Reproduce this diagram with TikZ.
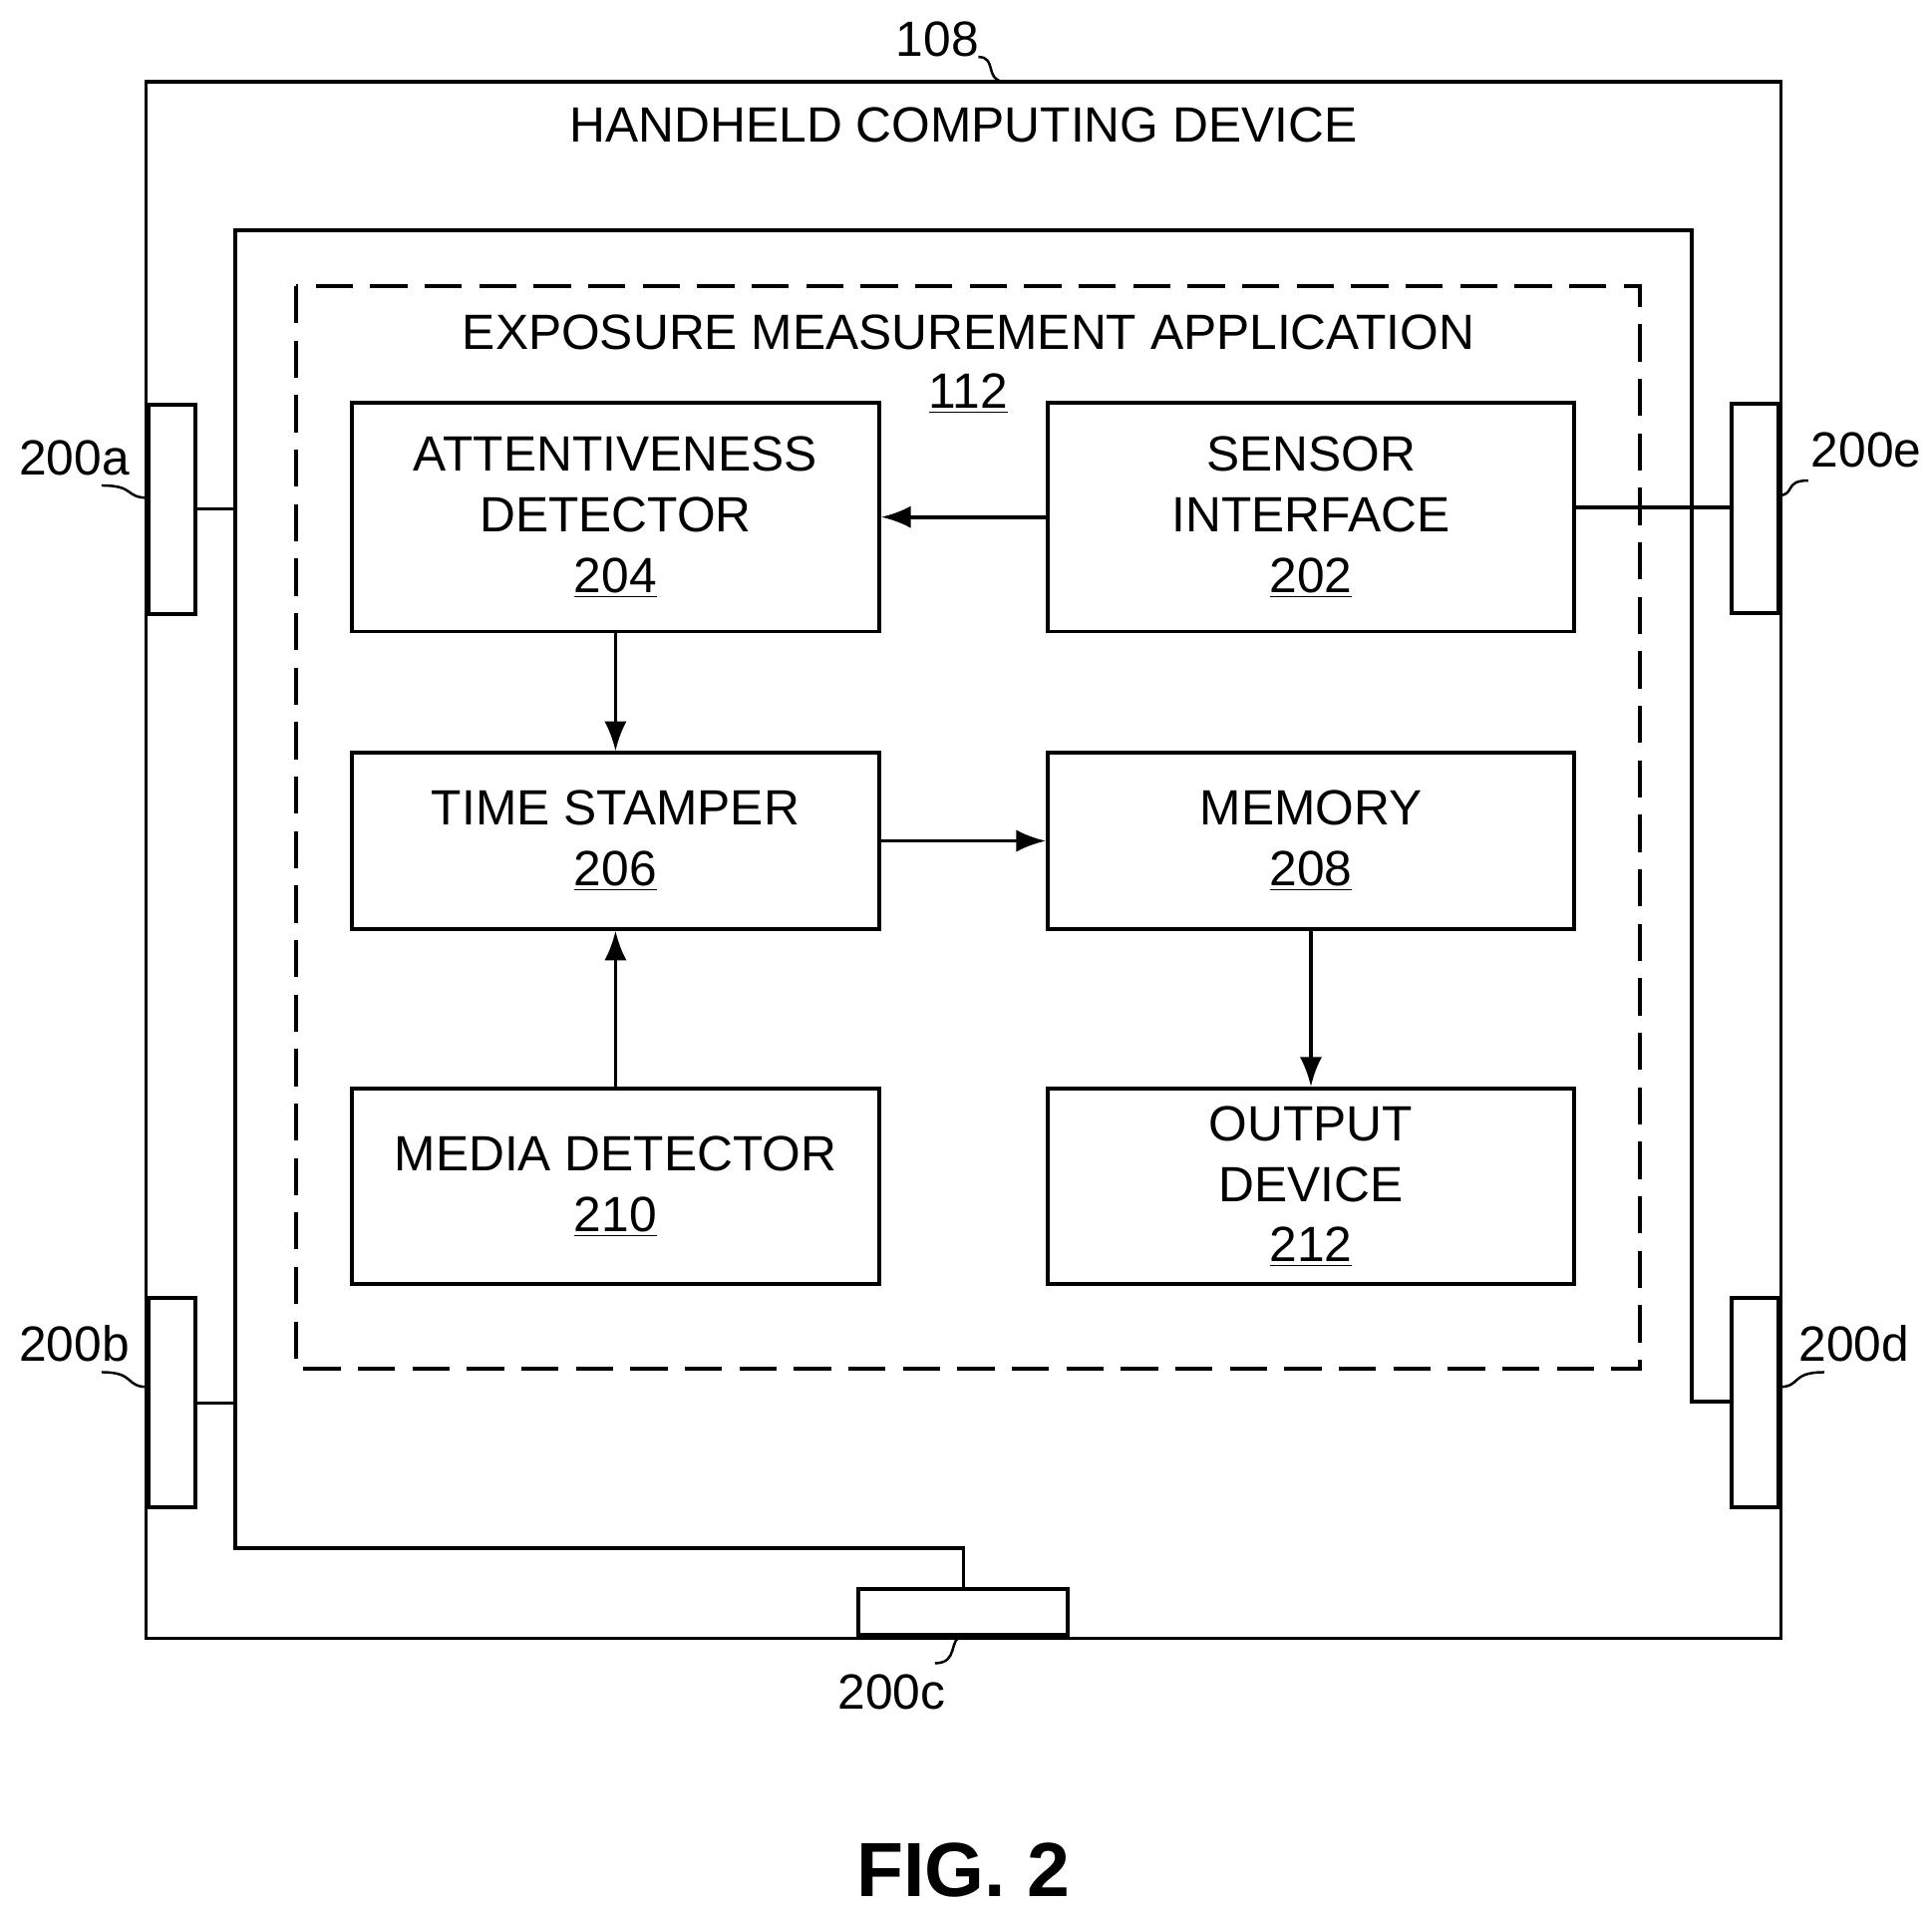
\documentclass[tikz,border=0pt]{standalone}
\usepackage{fontspec}
\setmainfont{Liberation Sans}
\usetikzlibrary{arrows.meta}
\begin{document}
\begin{tikzpicture}[x=0.5pt,y=-0.5pt,line width=1.5pt,
  txt/.style={font=\fontsize{20}{24.5}\selectfont,align=center,inner sep=0pt},
  blk/.style={draw,rectangle},
  arr/.style={-{Latex[length=12pt,width=9pt]}},
  sq/.style={line width=1pt}]
\useasboundingbox (0,0) rectangle (1560,1542);
% outer
\draw (118,66) rectangle (1438,1323);
\node[txt] (t108) at (778,101) {HANDHELD COMPUTING DEVICE};
\node[txt] (n108) at (757,32) {108};
\draw[sq] (790,46) .. controls (805,46) and (795,64) .. (810,66);
% inner wiring
\draw (190,1133) -- (190,186) -- (1366,186) -- (1366,1132) -- (1398,1132);
\draw (190,1133) -- (190,1250) -- (778,1250) -- (778,1283);
\draw (158,411) -- (190,411);
\draw (158,1133) -- (190,1133);
% sensors
\draw[fill=white] (120,327) rectangle (158,496);
\draw[fill=white] (120,1048) rectangle (158,1217);
\draw[fill=white] (1398,326) rectangle (1436,495);
\draw[fill=white] (1398,1048) rectangle (1436,1217);
\draw[fill=white] (693,1283) rectangle (862,1320);
\coordinate (s200e) at (1398,410);
\node[txt] at (60,370) {200a};
\node[txt] at (60,1085) {200b};
\node[txt] at (720,1366) {200c};
\node[txt] at (1497,1085) {200d};
\node[txt] at (1507,363) {200e};
\draw[sq] (82,392) .. controls (110,392) and (100,402) .. (120,402);
\draw[sq] (82,1108) .. controls (110,1108) and (100,1120) .. (120,1120);
\draw[sq] (755,1343) .. controls (775,1343) and (765,1322) .. (778,1321);
\draw[sq] (1473,1108) .. controls (1445,1108) and (1455,1120) .. (1436,1120);
\draw[sq] (1460,388) .. controls (1440,388) and (1450,400) .. (1436,400);
% dashed app
\draw[dash pattern=on 15pt off 7pt] (239,231) rectangle (1324,1105);
\node[txt] at (782,268) {EXPOSURE MEASUREMENT APPLICATION};
\node[txt] at (782,318) {\underline{112}};
% blocks
\node[blk,minimum width=213pt,minimum height=92.5pt] (b204) at (497,417.5) {};
\node[txt] at (b204) {ATTENTIVENESS\\DETECTOR\\\underline{204}};
\node[blk,minimum width=212.5pt,minimum height=92.5pt] (b202) at (1058.5,417.5) {};
\node[txt] at (b202) {SENSOR\\INTERFACE\\\underline{202}};
\node[blk,minimum width=213pt,minimum height=71pt] (b206) at (497,679) {};
\node[txt] at (b206) {TIME STAMPER\\\underline{206}};
\node[blk,minimum width=212.5pt,minimum height=71pt] (b208) at (1058.5,679) {};
\node[txt] at (b208) {MEMORY\\\underline{208}};
\node[blk,minimum width=213pt,minimum height=79pt] (b210) at (497,958) {};
\node[txt] at (b210) {MEDIA DETECTOR\\\underline{210}};
\node[blk,minimum width=212.5pt,minimum height=79pt] (b212) at (1058.5,958) {};
\node[txt] at (b212) {OUTPUT\\DEVICE\\\underline{212}};
% arrows
\draw[arr] (b202.west) -- (b204.east);
\draw[arr] (b204.south) -- (b206.north);
\draw[arr] (b206.east) -- (b208.west);
\draw[arr] (b210.north) -- (b206.south);
\draw[arr] (b208.south) -- (b212.north);
\draw (b202.east |- s200e) -- (s200e);
\node[font=\fontsize{31}{36}\selectfont\bfseries] at (778,1510) {FIG. 2};
\end{tikzpicture}
\end{document}
